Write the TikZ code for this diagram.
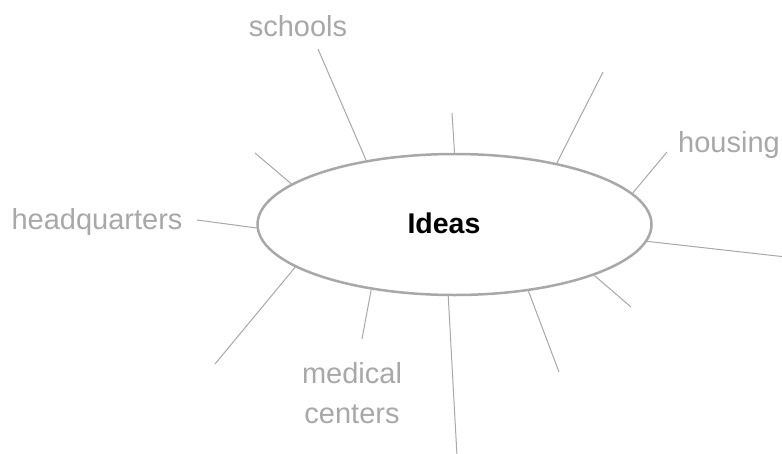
\documentclass[tikz,border=0pt]{standalone}
\usepackage{fontspec}
\setmainfont{Liberation Sans}
\usetikzlibrary{shapes.geometric}
\definecolor{lg}{HTML}{A8A8A8}
\begin{document}
\begin{tikzpicture}[x=1pt,y=-1pt,
  spoke/.style={draw=lg, line width=1pt},
  lbl/.style={text=lg, font=\fontsize{29}{40}\selectfont, inner sep=0pt, anchor=base},
  hub/.style={ellipse, draw=lg, line width=2.5pt, minimum width=394pt, minimum height=141pt, inner sep=0pt}
]
\useasboundingbox (0,0) rectangle (782,453);
\fill[white] (0,0) rectangle (782,453);
\node[hub] (ideas) at (454.5,224.5) {};
\node[font=\bfseries\fontsize{28.5}{32}\selectfont, anchor=base, inner sep=0pt] (ideastext) at (444,233) {Ideas};
\node[lbl] (schools) at (298,36.7) {schools};
\node[lbl] (hq) at (97,229) {headquarters};
\node[lbl] (housing) at (729,152) {housing};
\node[lbl, align=center] (medical) at (352,423) {medical\\centers};
\coordinate (e1) at (318,49);
\coordinate (e2) at (255,153);
\coordinate (e3) at (197,220);
\coordinate (e4) at (452,113);
\coordinate (e5) at (603,72);
\coordinate (e6) at (667,152);
\coordinate (e7) at (786,257);
\coordinate (e8) at (631,307);
\coordinate (e9) at (559,372);
\coordinate (e10) at (457,456);
\coordinate (e11) at (362,339);
\coordinate (e12) at (215,364);
\draw[spoke] (ideas.144.7) -- (e1);
\draw[spoke] (ideas.166.1) -- (e2);
\draw[spoke] (ideas.181) -- (e3);
\draw[spoke] (ideas.90.4) -- (e4);
\draw[spoke] (ideas.31.2) -- (e5);
\draw[spoke] (ideas.10.4) -- (e6);
\draw[spoke] (ideas.-5.8) -- (e7);
\draw[spoke] (ideas.-20.1) -- (e8);
\draw[spoke] (ideas.-42.8) -- (e9);
\draw[spoke] (ideas.-95.9) -- (e10);
\draw[spoke] (ideas.218.4) -- (e11);
\draw[spoke] (ideas.195.9) -- (e12);
\end{tikzpicture}
\end{document}
